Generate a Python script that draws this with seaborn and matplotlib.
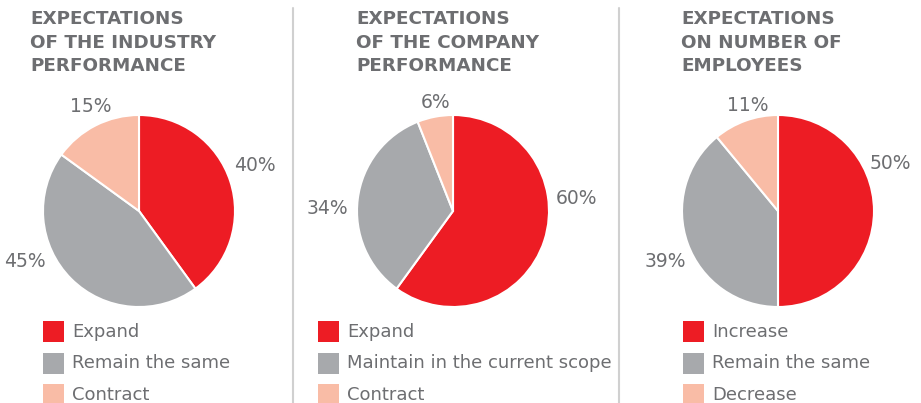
import matplotlib
matplotlib.use("Agg")
import matplotlib.pyplot as plt
import seaborn as sns
import numpy as np
from matplotlib.patches import Rectangle
from matplotlib.lines import Line2D

# ---- data ----
titles = [
    ["EXPECTATIONS", "OF THE INDUSTRY", "PERFORMANCE"],
    ["EXPECTATIONS", "OF THE COMPANY", "PERFORMANCE"],
    ["EXPECTATIONS", "ON NUMBER OF", "EMPLOYEES"],
]
industry_labels = ["Expand", "Remain the same", "Contract"]
industry_values = [40, 45, 15]
company_labels = ["Expand", "Maintain in the current scope", "Contract"]
company_values = [60, 34, 6]
employees_labels = ["Increase", "Remain the same", "Decrease"]
employees_values = [50, 39, 11]

# ---- style ----
sns.set_theme(style="white")
plt.rcParams["font.family"] = ["DejaVu Sans"]
colors = ["#ED1C24", "#A7A9AC", "#F9BCA6"]
txt = "#6D6E71"

W, H = 921, 403
fig = plt.figure(figsize=(W / 100, H / 100), dpi=100)

def fx(x):
    return x / W

def fy(y):
    return 1 - y / H

R = 96
centers = [(139, 211), (453, 211), (778, 211)]
title_left = [30, 356, 681]
legend_left = [43, 318, 683]
# label placement: (angle deg, radius in units of pie radius)
label_pos = [
    [(21.6, 1.30), (204, 1.30), (115, 1.20)],
    [(6, 1.29), (179, 1.31), (99, 1.14)],
    [(23, 1.27), (204, 1.29), (106, 1.14)],
]
series = [
    (industry_labels, industry_values),
    (company_labels, company_values),
    (employees_labels, employees_values),
]

for i, ((labs, vals), (cx, cy)) in enumerate(zip(series, centers)):
    ax = fig.add_axes([fx(cx - R), fy(cy + R), 2 * R / W, 2 * R / H])
    ax.pie(vals, colors=colors, startangle=90, counterclock=False, radius=1,
           wedgeprops=dict(edgecolor="white", linewidth=1.5))
    ax.set_xlim(-1, 1)
    ax.set_ylim(-1, 1)
    ax.set_aspect("equal")
    ax.axis("off")
    for v, (ang, r) in zip(vals, label_pos[i]):
        a = np.deg2rad(ang)
        ax.text(r * np.cos(a), r * np.sin(a), f"{v}%", ha="center", va="center",
                fontsize=13.5, color=txt, clip_on=False)
    # title
    for j, line in enumerate(titles[i]):
        fig.text(fx(title_left[i]), fy([24, 47.5, 71][j]), line, ha="left", va="baseline",
                 fontsize=13.2, color=txt, fontweight="bold")
    # legend
    lx = legend_left[i]
    for k, lab in enumerate(labs):
        top = 321 + 31.5 * k
        fig.patches.append(Rectangle((fx(lx), fy(top + 21)), 21 / W, 21 / H,
                                     transform=fig.transFigure, facecolor=colors[k],
                                     edgecolor="none"))
        fig.text(fx(lx + 29), fy(top + 16), lab, ha="left", va="baseline",
                 fontsize=13, color=txt)

for x in [293, 619]:
    fig.add_artist(Line2D([fx(x), fx(x)], [fy(8), fy(403)], transform=fig.transFigure,
                          color="#D0D0D0", linewidth=1.5))

fig.savefig("out.png", dpi=100)
